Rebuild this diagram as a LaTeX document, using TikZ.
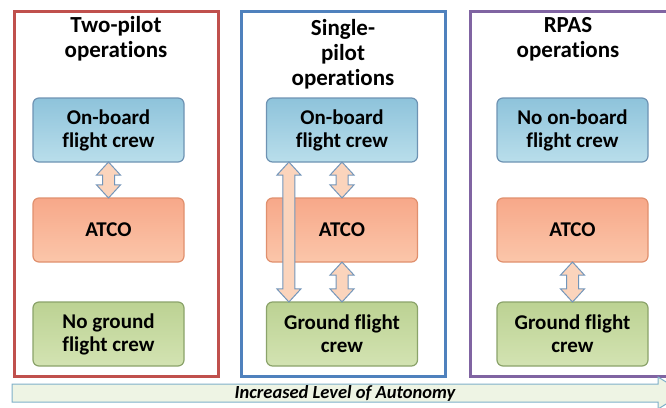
\documentclass[tikz,border=0pt]{standalone}
\usepackage{fontspec}
\setmainfont[Ligatures={NoCommon}]{Carlito}
\usetikzlibrary{shapes.arrows,calc}

\definecolor{redframe}{HTML}{C0504D}
\definecolor{blueframe}{HTML}{4F81BD}
\definecolor{purpleframe}{HTML}{8064A2}
\definecolor{crewtop}{HTML}{8EC3DB}
\definecolor{crewbot}{HTML}{B9DEEB}
\definecolor{crewline}{HTML}{6E93B3}
\definecolor{atcotop}{HTML}{F7A889}
\definecolor{atcobot}{HTML}{FBC6AA}
\definecolor{atcoline}{HTML}{E0906E}
\definecolor{grndtop}{HTML}{BCD293}
\definecolor{grndbot}{HTML}{D3E3B2}
\definecolor{grndline}{HTML}{8BA36A}
\definecolor{linkfill}{HTML}{FBD4BC}
\definecolor{linkline}{HTML}{7396BA}
\definecolor{autofill}{HTML}{EEF4E4}
\definecolor{autoline}{HTML}{7FB0C9}

\tikzset{
  frame/.style={line width=3pt},
  title/.style={font=\bfseries\fontsize{23}{25}\selectfont, align=center},
  box/.style={rounded corners=6pt, line width=1.2pt, minimum width=151pt,
    minimum height=64pt, align=center, font=\bfseries\fontsize{21}{23}\selectfont},
  crew/.style={box, draw=crewline, top color=crewtop, bottom color=crewbot},
  atco/.style={box, draw=atcoline, top color=atcotop, bottom color=atcobot},
  ground/.style={box, draw=grndline, top color=grndtop, bottom color=grndbot},
  link/.style={double arrow, rotate=90, draw=linkline, fill=linkfill, line width=1pt,
    inner xsep=0pt, inner ysep=5.5pt, double arrow head extend=6pt, double arrow tip angle=85}
}

\begin{document}
\begin{tikzpicture}[x=1pt, y=-1pt]
  \useasboundingbox (0,0) rectangle (666,407);
  \clip (0,0) rectangle (666,407);

  % frames
  \draw[frame, redframe] (14,11) rectangle (218,376);
  \draw[frame, blueframe] (241,11) rectangle (445,376);
  \draw[frame, purpleframe] (470,11) rectangle (690,376);

  \node[title] (T1) at (116,39) {Two-pilot\\operations};
  \node[title] (T2) at (343,54) {Single-\\pilot\\operations};
  \node[title] (T3) at (568,39) {RPAS\\operations};

  \node[crew] (C1) at (108.5,130) {On-board\\flight crew};
  \node[atco] (A1) at (108.5,230) {ATCO};
  \node[ground] (G1) at (108.5,334) {No ground\\flight crew};

  \node[crew] (C2) at (342,130) {On-board\\flight crew};
  \node[atco] (A2) at (342,230) {ATCO};
  \node[ground] (G2) at (342,334) {Ground flight\\crew};

  \node[crew] (C3) at (572.5,130) {No on-board\\flight crew};
  \node[atco] (A3) at (572.5,230) {ATCO};
  \node[ground] (G3) at (572.5,334) {Ground flight\\crew};

  % links
  \node[link, minimum height=36pt] (L1) at ($(C1.south)!0.5!(A1.north)$) {};
  \node[link, minimum height=36pt] (L2) at ($(C2.south)!0.5!(A2.north)$) {};
  \node[link, minimum height=40pt] (L3) at ($(A2.south)!0.5!(G2.north)$) {};
  \node[link, minimum height=140pt] (L4) at ($(C2.south west)!0.5!(G2.north west)+(23,0)$) {};
  \node[link, minimum height=40pt] (L5) at ($(A3.south)!0.5!(G3.north)$) {};

  % autonomy arrow
  \draw[autoline, fill=autofill, line width=1pt]
    (12,384) -- (658,384) -- (658,377) -- (684,393) -- (658,409) -- (658,402) -- (12,402) -- cycle;
  \node[font=\bfseries\itshape\fontsize{18.5}{20}\selectfont] (auto) at (345,393) {Increased Level of Autonomy};
\end{tikzpicture}
\end{document}
